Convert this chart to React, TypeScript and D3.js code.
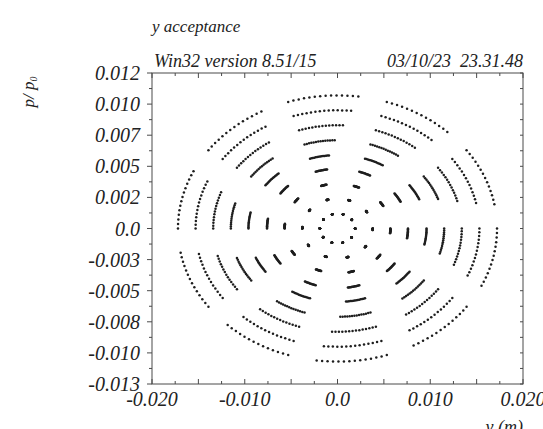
import React from 'react';
import * as d3 from 'd3';

// axis ticks and labels
const xTickValues = [-0.02, -0.01, 0, 0.01, 0.02];
const xTickLabels = ['-0.020', '-0.010', '0.0', '0.010', '0.020'];
const yTickValues = [0.0125, 0.01, 0.0075, 0.005, 0.0025, 0, -0.0025, -0.005, -0.0075, -0.01, -0.0125];
const yTickLabels = ['0.012', '0.010', '0.007', '0.005', '0.002', '0.0', '-0.003', '-0.005', '-0.008', '-0.010', '-0.013'];

// tracked particles: amplitude per ring (y and py), start phase per particle, phase swept per ring
const ringAmpY = [0.0019, 0.0038, 0.0057, 0.0076, 0.0096, 0.0115, 0.0134, 0.0153, 0.0172];
const ringAmpPy = [0.0012, 0.0024, 0.0036, 0.0048, 0.0059, 0.0071, 0.0083, 0.0095, 0.0107];
const startPhaseDeg = [0, 36, 72, 108, 144, 180, 216, 252, 288, 324];
const arcSweepDeg = [1, 3, 6, 9.5, 12.5, 16.5, 20.5, 23.5, 25.5];
const turnsPerArc = 14;

const W = 543;
const H = 429;
const margin = { left: 152, right: 20, top: 73, bottom: 45 };
const font = '"Liberation Serif", "Times New Roman", serif';

const App = () => {
  const x = d3.scaleLinear().domain([-0.02, 0.02]).range([margin.left, W - margin.right]);
  const y = d3.scaleLinear().domain([-0.0125, 0.0125]).range([H - margin.bottom, margin.top]);
  const [x0, x1] = x.range();
  const [y0, y1] = [y(0.0125), y(-0.0125)];

  const points: { px: number; py: number }[] = [];
  ringAmpY.forEach((ay, k) => {
    const apy = ringAmpPy[k];
    startPhaseDeg.forEach(s => {
      for (let t = 0; t < turnsPerArc; t++) {
        const th = ((s - (arcSweepDeg[k] * t) / (turnsPerArc - 1)) * Math.PI) / 180;
        points.push({ px: ay * Math.cos(th), py: apy * Math.sin(th) });
      }
    });
  });

  const xMinor = d3.range(-0.02, 0.02001, 0.0025);
  const yMinor = d3.range(-0.0125, 0.01251, 0.00125);
  const isMajorX = (v: number) => Math.abs(Math.round(v / 0.005) * 0.005 - v) < 1e-9;
  const isMajorY = (v: number) => Math.abs(Math.round(v / 0.0025) * 0.0025 - v) < 1e-9;

  const stroke = '#4a4a4a';

  return (
    <svg width={W} height={H} style={{ position: 'absolute', left: 0, top: 0, overflow: 'hidden', background: '#fff' }}
      fontFamily={font} fontStyle="italic" fill="#222">
      <text x={152} y={32} fontSize={17}>y acceptance</text>
      <text x={154} y={67} fontSize={18}>Win32 version 8.51/15</text>
      <text x={x1} y={67} fontSize={18} textAnchor="end" style={{ whiteSpace: 'pre' }}>03/10/23  23.31.48</text>

      {/* frame */}
      <rect x={x0} y={y0} width={x1 - x0} height={y1 - y0} fill="none" stroke={stroke} strokeWidth={1} />

      {/* x ticks: bottom and top, inward */}
      {xMinor.map((v, i) => {
        const len = isMajorX(v) ? 5 : 3;
        return (
          <g key={'xt' + i} stroke={stroke} strokeWidth={1}>
            <line x1={x(v)} x2={x(v)} y1={y1} y2={y1 - len} />
            <line x1={x(v)} x2={x(v)} y1={y0} y2={y0 + len} />
          </g>
        );
      })}
      {/* y ticks: left outward, right inward */}
      {yMinor.map((v, i) => {
        const len = isMajorY(v) ? 5 : 3;
        return (
          <g key={'yt' + i} stroke={stroke} strokeWidth={1}>
            <line x1={x0} x2={x0 - len} y1={y(v)} y2={y(v)} />
            <line x1={x1} x2={x1 - 3} y1={y(v)} y2={y(v)} />
          </g>
        );
      })}

      {xTickValues.map((v, i) => (
        <text key={'xl' + i} x={x(v)} y={y1 + 22} fontSize={20} textAnchor="middle">{xTickLabels[i]}</text>
      ))}
      {yTickValues.map((v, i) => (
        <text key={'yl' + i} x={x0 - 12} y={y(v) + 7} fontSize={20} textAnchor="end">{yTickLabels[i]}</text>
      ))}

      <text x={x1} y={433} fontSize={18} textAnchor="end">y (m)</text>
      <text transform={`translate(34,92) rotate(-90)`} fontSize={17} textAnchor="middle">
        p/ p<tspan fontSize={10} dy={3}>0</tspan>
      </text>

      {points.map((p, i) => (
        <circle key={i} cx={x(p.px)} cy={y(p.py)} r={1.25} fill="#1e1e1e" />
      ))}
    </svg>
  );
};

export default App;
